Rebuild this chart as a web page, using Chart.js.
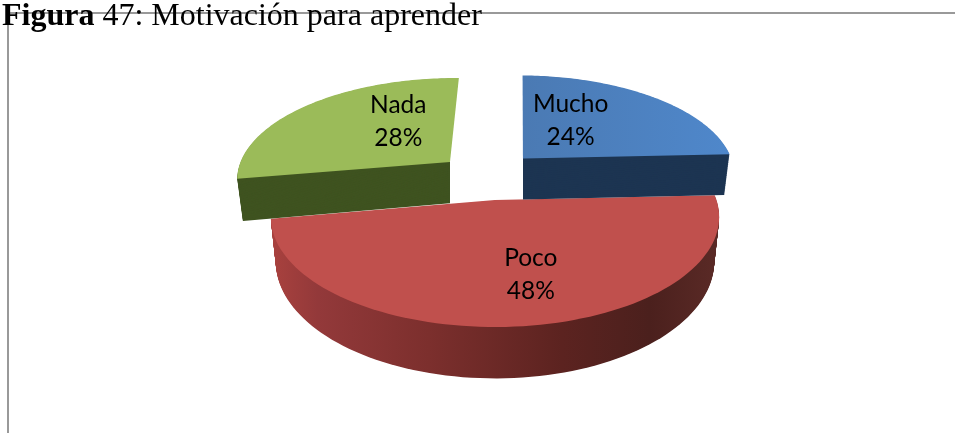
<!DOCTYPE html>
<html><head><meta charset="utf-8">
<script src="https://cdn.jsdelivr.net/npm/chart.js@4/dist/chart.umd.js"></script>
<style>
html,body{margin:0;padding:0;background:#fff;width:955px;height:433px;overflow:hidden}
#frame{position:absolute;left:7px;top:12px;right:-4px;bottom:-4px;border:2px solid #999;box-sizing:border-box}
#cap{position:absolute;left:2px;top:-4px;font:32px/36px "Liberation Serif",serif;color:#000;white-space:nowrap}
canvas{position:absolute;left:0;top:0}
</style></head><body>
<div id="frame"></div>
<canvas id="c" width="955" height="433"></canvas>
<div id="cap"><b>Figura</b> 47: Motivación para aprender</div>
<script>
const categories = ["Mucho", "Poco", "Nada"];
const percentages = [24, 48, 28];
const topColors = ["#4f81bd", "#c0504d", "#9bbb59"];
const sideColors = ["#1d3552", "#7a2e2c", "#3f5320"];
const sliceShiftX = [0.134, 0, -0.215];
const sliceShiftY = [-0.41, 0, -0.374];
const labelFraction = [0.4, 0.6, 0.4];
const labelNudgeX = [-7, 20, 8];
const labelNudgeY = [-12, 4, -17];
const pieRotation = 1;

// perspective of the pie's plane
const CX = 495, CY = 200, AX = 221.5, BY = 107.5, K = 0.1536, DEPTH = 43.5, SHRINK = 0.022;
function project(X, Y, t) {
  const s = 1 / (1 - K * Y);
  const x = CX + (AX * X * s) * (1 - SHRINK * t);
  const y = CY + BY * Y * s + DEPTH * s * t;
  return [x, y];
}

class Arc3D extends Chart.ArcElement {
  static id = 'arc3d';
  static defaults = Chart.ArcElement.defaults;
  trace(ctx, i, t) {
    const a0 = this.startAngle, a1 = this.endAngle;
    const ox = sliceShiftX[i], oy = sliceShiftY[i];
    ctx.beginPath();
    ctx.moveTo(...project(ox, oy, t));
    const n = 90;
    for (let k = 0; k <= n; k++) {
      const a = a0 + (a1 - a0) * k / n;
      ctx.lineTo(...project(ox + Math.cos(a), oy + Math.sin(a), t));
    }
    ctx.closePath();
  }
  draw(ctx) {
    const i = this.$index;
    ctx.save();
    let side = sideColors[i], top = this.options.backgroundColor;
    if (categories[i] === "Poco") {
      const g = ctx.createLinearGradient(CX - AX, 0, CX + AX, 0);
      g.addColorStop(0, "#a8413e");
      g.addColorStop(0.1, "#93393a");
      g.addColorStop(0.35, "#7c2f2d");
      g.addColorStop(0.65, "#5c2320");
      g.addColorStop(0.85, "#4b201d");
      g.addColorStop(1, "#5a2a26");
      side = g;
    }
    if (categories[i] === "Mucho") {
      const g = ctx.createLinearGradient(CX, 0, CX + AX * 1.1, 0);
      g.addColorStop(0, "#4a78b0");
      g.addColorStop(1, "#4f88cc");
      top = g;
    }
    ctx.save();
    if (sliceShiftX[i] !== 0) {
      const tipX = project(sliceShiftX[i], sliceShiftY[i], 0)[0];
      ctx.beginPath();
      if (sliceShiftX[i] > 0) ctx.rect(tipX, 0, 955 - tipX, 433);
      else ctx.rect(0, 0, tipX, 433);
      ctx.clip();
    }
    ctx.fillStyle = side;
    for (let t = 1; t > 0; t -= 1 / 60) {
      this.trace(ctx, i, t);
      ctx.fill();
    }
    ctx.restore();
    ctx.fillStyle = top;
    this.trace(ctx, i, 0);
    ctx.fill();
    ctx.restore();
  }
}

class Pie3DController extends Chart.DoughnutController {
  static id = 'pie3d';
  static defaults = { ...Chart.DoughnutController.defaults, dataElementType: 'arc3d' };
  static overrides = Chart.DoughnutController.overrides;
  draw() {
    const ctx = this.chart.ctx, arcs = this.getMeta().data;
    arcs.forEach((el, i) => { el.$index = i; });
    const order = arcs.map((_, i) => i).sort((a, b) =>
      (Math.abs(sliceShiftY[a]) > 0 ? 1 : 0) - (Math.abs(sliceShiftY[b]) > 0 ? 1 : 0));
    order.forEach(i => arcs[i].draw(ctx));
  }
}
Chart.register(Arc3D, Pie3DController);

const labelPlugin = {
  id: 'sliceLabels',
  afterDatasetsDraw(chart) {
    const ctx = chart.ctx;
    ctx.save();
    ctx.font = '24.5px Lato, "Open Sans", sans-serif';
    ctx.fillStyle = '#000';
    ctx.textAlign = 'center';
    ctx.textBaseline = 'middle';
    chart.getDatasetMeta(0).data.forEach((el, i) => {
      const mid = (el.startAngle + el.endAngle) / 2, f = labelFraction[i];
      const p = project(sliceShiftX[i] + f * Math.cos(mid), sliceShiftY[i] + f * Math.sin(mid), 0);
      const x = p[0] + labelNudgeX[i], y = p[1] + labelNudgeY[i];
      ctx.fillText(categories[i], x, y - 16);
      ctx.fillText(percentages[i] + '%', x, y + 17);
    });
    ctx.restore();
  }
};

new Chart(document.getElementById('c'), {
  type: 'pie3d',
  data: { labels: categories, datasets: [{ data: percentages, backgroundColor: topColors, borderWidth: 0, clip: false }] },
  options: {
    responsive: false, animation: false, rotation: pieRotation,
    plugins: { legend: { display: false }, tooltip: { enabled: false }, title: { display: false } }
  },
  plugins: [labelPlugin]
});
</script>
</body></html>
